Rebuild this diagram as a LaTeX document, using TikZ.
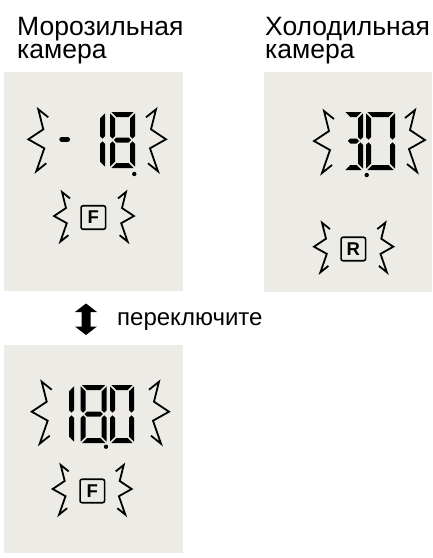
\documentclass[tikz,border=0pt]{standalone}
\usepackage{fontspec}
\setmainfont{Liberation Sans}
\definecolor{panel}{RGB}{236,235,230}
\newcommand\DgW{25}
\newcommand\DgH{56}
\newcommand\DgT{5}
\newcommand\DgG{1.3}
\newcommand\Zsega{\fill (\DgG,0) -- (\DgW-\DgG,0) -- (\DgW-\DgT-\DgG,\DgT) -- (\DgT+\DgG,\DgT) -- cycle;}
\newcommand\Zsegd{\fill (\DgG,\DgH) -- (\DgW-\DgG,\DgH) -- (\DgW-\DgT-\DgG,\DgH-\DgT) -- (\DgT+\DgG,\DgH-\DgT) -- cycle;}
\newcommand\Zsegg{\fill (\DgT/2+\DgG,\DgH/2) -- (\DgT+\DgG,\DgH/2-\DgT/2) -- (\DgW-\DgT-\DgG,\DgH/2-\DgT/2) -- (\DgW-\DgT/2-\DgG,\DgH/2) -- (\DgW-\DgT-\DgG,\DgH/2+\DgT/2) -- (\DgT+\DgG,\DgH/2+\DgT/2) -- cycle;}
\newcommand\Zsegf{\fill (0,\DgG) -- (\DgT,\DgT+\DgG) -- (\DgT,\DgH/2-\DgT/2-\DgG) -- (\DgT/2,\DgH/2-\DgG) -- (0,\DgH/2-\DgT/2-\DgG) -- cycle;}
\newcommand\Zsege{\fill (0,\DgH-\DgG) -- (\DgT,\DgH-\DgT-\DgG) -- (\DgT,\DgH/2+\DgT/2+\DgG) -- (\DgT/2,\DgH/2+\DgG) -- (0,\DgH/2+\DgT/2+\DgG) -- cycle;}
\newcommand\Zsegb{\fill (\DgW,\DgG) -- (\DgW-\DgT,\DgT+\DgG) -- (\DgW-\DgT,\DgH/2-\DgT/2-\DgG) -- (\DgW-\DgT/2,\DgH/2-\DgG) -- (\DgW,\DgH/2-\DgT/2-\DgG) -- cycle;}
\newcommand\Zsegc{\fill (\DgW,\DgH-\DgG) -- (\DgW-\DgT,\DgH-\DgT-\DgG) -- (\DgW-\DgT,\DgH/2+\DgT/2+\DgG) -- (\DgW-\DgT/2,\DgH/2+\DgG) -- (\DgW,\DgH/2+\DgT/2+\DgG) -- cycle;}
\newcommand\LcdDigit[5]{%
  \begin{scope}[shift={(#1,#2)}]
    \renewcommand\DgW{#3}\renewcommand\DgH{#4}%
    \foreach \s in {#5}{\csname Zseg\s\endcsname}
  \end{scope}}
\tikzset{
  zigline/.style={line width=1.8pt, line join=miter, miter limit=10},
  zig/.pic={\draw[zigline] (20,-22) -- (10,-30) -- (15,-10) -- (0,0) -- (16,9) -- (8,32) -- (18,24);},
  headtext/.style={font=\fontsize{26.5}{23}\selectfont, align=left, anchor=base west, inner sep=0pt},
  labeltext/.style={font=\fontsize{24}{24}\selectfont, anchor=base west, inner sep=0pt},
  keybox/.style={draw, line width=1.6pt, rounded corners=2pt, minimum width=24.5pt, minimum height=23.5pt, inner sep=0pt, font=\fontsize{18.5}{18.5}\selectfont\bfseries},
  lcddot/.style={fill=black},
}
\begin{document}
\begin{tikzpicture}[x=1pt, y=-1pt]
\useasboundingbox (0,0) rectangle (432,558);
% panels
\fill[panel] (4,72) rectangle (183,291);
\fill[panel] (264,72) rectangle (432,292);
\fill[panel] (4,345) rectangle (183,553);
% headings (anchor = baseline of the last line)
\node[headtext] (t1) at (17,58) {Морозильная\\камера};
\node[headtext] (t2) at (265,58) {Холодильная\\камера};
% panel 1: -18.
\pic at (28.3,139.3) {zig};
\pic[xscale=-1] at (166,139.3) {zig};
\draw[line width=5pt, line cap=round] (61.8,139.3) -- (67.5,139.3);
\LcdDigit{100}{112}{5}{56}{b,c}
\LcdDigit{110}{112}{25}{56}{a,b,c,d,e,f,g}
\fill[lcddot] (134.3,174) circle[radius=2.2pt];
\pic[scale=0.8] at (54,216) {zig};
\pic[scale=0.8, xscale=-1] at (134,216) {zig};
\node[keybox] (fkey1) at (93.3,217.5) {F};
% panel 2: 3.0
\pic at (314,141) {zig};
\pic[xscale=-1] at (425,140) {zig};
\LcdDigit{344}{112}{19}{58}{a,b,c,d,g}
\LcdDigit{366}{112}{29}{58}{a,b,c,d,e,f}
\fill[lcddot] (366.7,175) circle[radius=2.2pt];
\pic[scale=0.8] at (314,246.7) {zig};
\pic[scale=0.8, xscale=-1] at (393.3,246.7) {zig};
\node[keybox] (rkey) at (353.3,249) {R};
% switch arrow
\fill (86,303.5) -- (97,312) -- (90.5,312) -- (90.5,326.5) -- (97,326.5) -- (86,335) -- (75,326.5) -- (81.5,326.5) -- (81.5,312) -- (75,312) -- cycle;
\node[labeltext] (sw) at (117,325) {переключите};
% panel 3: 18.0
\pic at (31.7,411.7) {zig};
\pic[xscale=-1] at (169,411.7) {zig};
\LcdDigit{69}{385}{5}{58}{b,c}
\LcdDigit{80.7}{385}{26}{58}{a,b,c,d,e,f,g}
\LcdDigit{110}{385}{24}{58}{a,b,c,d,e,f}
\fill[lcddot] (106,446.7) circle[radius=2.2pt];
\pic[scale=0.8] at (52.7,489) {zig};
\pic[scale=0.8, xscale=-1] at (131.7,489) {zig};
\node[keybox] (fkey3) at (92.3,491) {F};
\end{tikzpicture}
\end{document}
